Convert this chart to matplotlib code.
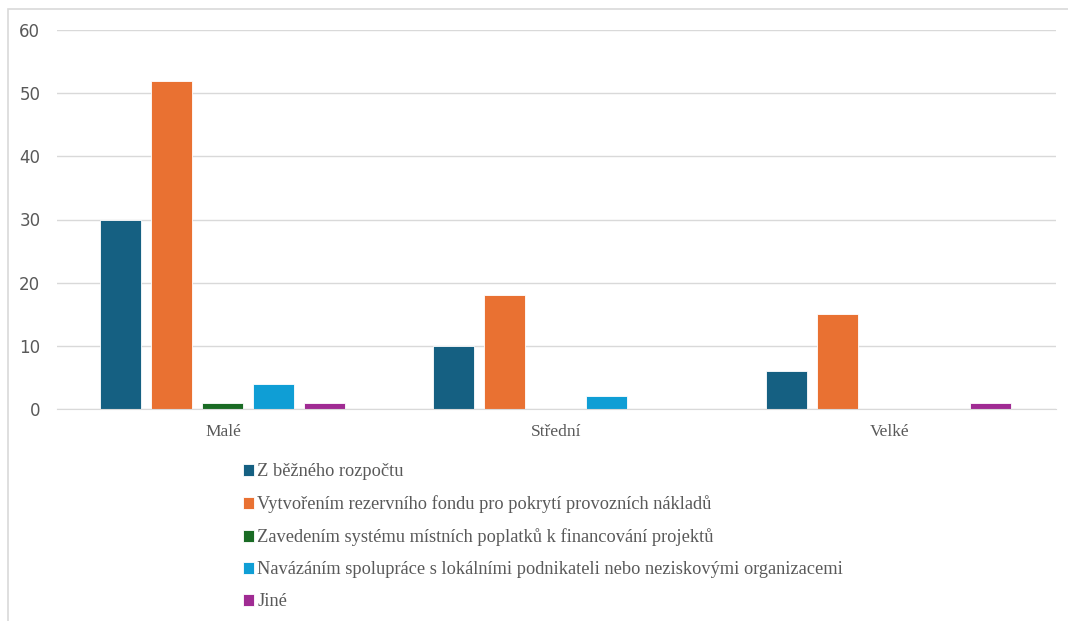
import numpy as np
import matplotlib.pyplot as plt
from matplotlib.patches import Rectangle

# --- data ---
kategorie = ["Malé", "Střední", "Velké"]
serie = [
    "Z běžného rozpočtu",
    "Vytvořením rezervního fondu pro pokrytí provozních nákladů",
    "Zavedením systému místních poplatků k financování projektů",
    "Navázáním spolupráce s lokálními podnikateli nebo neziskovými organizacemi",
    "Jiné",
]
z_rozpoctu = [30, 10, 6]
rezervni_fond = [52, 18, 15]
poplatky = [1, 0, 0]
spoluprace = [4, 2, 0]
jine = [1, 0, 1]
hodnoty = [z_rozpoctu, rezervni_fond, poplatky, spoluprace, jine]
barvy = ["#156082", "#E97132", "#196B24", "#0F9ED5", "#A02B93"]

fig = plt.figure(figsize=(10.68, 6.21), dpi=100)
ax = fig.add_axes([57 / 1068, 1 - 409 / 621, (1056 - 57) / 1068, (409 - 30) / 621])

x = np.arange(len(kategorie))
krok = 0.153
sirka = 0.122
for i, (nazev, vals, c) in enumerate(zip(serie, hodnoty, barvy)):
    ax.bar(x + (i - 2) * krok - 0.003, vals, width=sirka, color=c,
           edgecolor="white", linewidth=0.6, label=nazev, zorder=3)

ax.set_xlim(-0.5, 2.5)
ax.set_ylim(0, 60)
ax.set_yticks(range(0, 61, 10))
ax.grid(axis="y", color="#d9d9d9", linewidth=1, zorder=0)
for s in ["top", "right", "left"]:
    ax.spines[s].set_visible(False)
ax.spines["bottom"].set_color("#d9d9d9")
ax.spines["bottom"].set_zorder(4)
ax.tick_params(axis="both", length=0, colors="#595959")
ax.tick_params(axis="y", labelsize=12, pad=12)
ax.set_xticks(x)
ax.set_xticklabels(kategorie, fontfamily="Liberation Serif", fontsize=12.5)
ax.tick_params(axis="x", pad=11)

leg = fig.legend(loc="upper left", bbox_to_anchor=(226 / 1068, 1 - 447 / 621),
                 frameon=False, ncol=1, handlelength=0.6, handleheight=0.6,
                 handletextpad=0.2, labelspacing=0.82,
                 prop={"family": "Liberation Serif", "size": 13.2})
for t in leg.get_texts():
    t.set_color("#595959")

# light frame of the chart area
fig.patches.append(Rectangle((8 / 1068, -0.01), 1.1, 1 - 9 / 621 + 0.01,
                             transform=fig.transFigure, fill=False,
                             edgecolor="#d9d9d9", linewidth=1.2))

fig.savefig("out.png", dpi=100)
